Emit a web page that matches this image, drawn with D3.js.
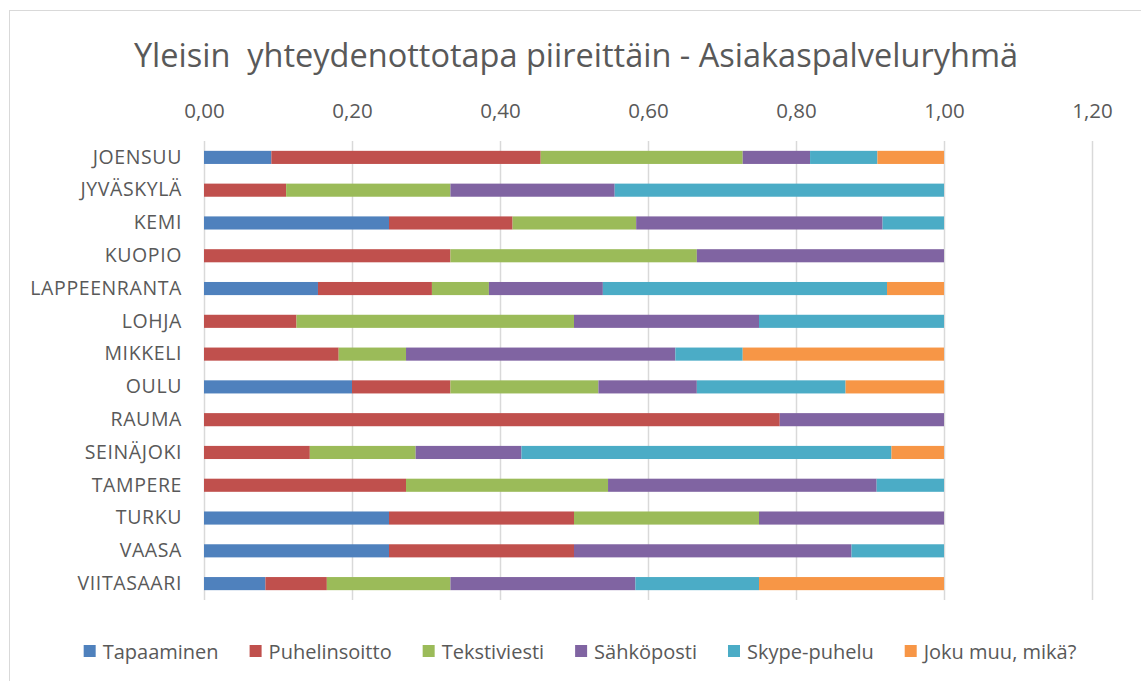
<!DOCTYPE html>
<meta charset="utf-8">
<html>
<head>
  <script src="https://d3js.org/d3.v7.min.js" charset="utf-8"></script>
</head>
<style>
body { margin: 0; background: white; }
text { font-family: "Open Sans", sans-serif; fill: #595959; }
</style>
<body>
<div id="container"></div>
<script type="text/javascript">

var categories = ["JOENSUU", "JYVÄSKYLÄ", "KEMI", "KUOPIO", "LAPPEENRANTA", "LOHJA", "MIKKELI",
                  "OULU", "RAUMA", "SEINÄJOKI", "TAMPERE", "TURKU", "VAASA", "VIITASAARI"]

var seriesNames = ["Tapaaminen", "Puhelinsoitto", "Tekstiviesti", "Sähköposti", "Skype-puhelu", "Joku muu, mikä?"]

var tapaaminen    = [0.091, 0,     0.250, 0,     0.154, 0,     0,     0.200, 0,     0,     0,     0.250, 0.250, 0.083]
var puhelinsoitto = [0.364, 0.111, 0.167, 0.333, 0.154, 0.125, 0.182, 0.133, 0.778, 0.143, 0.273, 0.250, 0.250, 0.083]
var tekstiviesti  = [0.273, 0.222, 0.167, 0.333, 0.077, 0.375, 0.091, 0.200, 0,     0.143, 0.273, 0.250, 0,     0.167]
var sahkoposti    = [0.091, 0.222, 0.333, 0.334, 0.154, 0.250, 0.364, 0.133, 0.222, 0.143, 0.363, 0.250, 0.375, 0.250]
var skype         = [0.091, 0.445, 0.083, 0,     0.384, 0.250, 0.091, 0.201, 0,     0.500, 0.091, 0,     0.125, 0.167]
var jokuMuu       = [0.090, 0,     0,     0,     0.077, 0,     0.272, 0.133, 0,     0.071, 0,     0,     0,     0.250]

var ticks = [0, 0.2, 0.4, 0.6, 0.8, 1.0, 1.2]

var colors = ["#4f81bd", "#c0504d", "#9bbb59", "#8064a2", "#4bacc6", "#f79646"]

var width = 1141
var height = 681
var plot = {left: 204, right: 1092, top: 141, bottom: 600}

var allSeries = [tapaaminen, puhelinsoitto, tekstiviesti, sahkoposti, skype, jokuMuu]
var rows = categories.map(function(c, i) {
  var r = {name: c}
  seriesNames.forEach(function(s, j) { r[s] = allSeries[j][i] })
  return r
})

var stack = d3.stack().keys(seriesNames)(rows)

var x = d3.scaleLinear().domain([0, 1.2]).range([plot.left, plot.right])
var y = d3.scaleBand().domain(categories).range([plot.top, plot.bottom]).paddingInner(0.6).paddingOuter(0.3)
var color = d3.scaleOrdinal().domain(seriesNames).range(colors)

var locale = d3.formatLocale({decimal: ",", thousands: " ", grouping: [3], currency: ["", "€"]})
var fmt = locale.format(".2f")

const svg = d3.select("#container")
              .append("svg")
              .attr("width", width)
              .attr("height", height)

// chart frame
svg.append("rect")
   .attr("x", 9.5).attr("y", 10.5)
   .attr("width", width).attr("height", height)
   .attr("fill", "white")
   .attr("stroke", "#d9d9d9")

svg.append("text")
   .attr("x", 576)
   .attr("y", 67)
   .attr("text-anchor", "middle")
   .style("font-size", "32.5px")
   .style("white-space", "pre")
   .text("Yleisin  yhteydenottotapa piireittäin - Asiakaspalveluryhmä")

// gridlines
svg.append("g")
   .selectAll("line")
   .data(ticks)
   .enter()
   .append("line")
   .attr("x1", (d) => Math.round(x(d)) + 0.5)
   .attr("x2", (d) => Math.round(x(d)) + 0.5)
   .attr("y1", plot.top)
   .attr("y2", plot.bottom)
   .attr("stroke", "#d9d9d9")
   .attr("stroke-width", 1.5)

// top axis labels
var xAxis = svg.append("g")
   .attr("transform", "translate(0," + 118 + ")")
   .call(d3.axisTop(x).tickValues(ticks).tickFormat(fmt).tickSize(0).tickPadding(0))
xAxis.select(".domain").remove()
xAxis.selectAll("text")
     .attr("dy", 0)
     .style("font-size", "20.5px")
     .attr("fill", "#595959")

// category labels
var yAxis = svg.append("g")
   .attr("transform", "translate(" + 182 + ",0)")
   .call(d3.axisLeft(y).tickSize(0).tickPadding(0))
yAxis.select(".domain").remove()
yAxis.selectAll("text")
     .style("font-size", "19.5px")
     .style("letter-spacing", "0.6px")
     .attr("fill", "#595959")

// bars
svg.append("g")
   .selectAll("g")
   .data(stack)
   .enter()
   .append("g")
   .attr("fill", (d) => color(d.key))
   .selectAll("rect")
   .data((d) => d)
   .enter()
   .append("rect")
   .attr("x", (d) => x(d[0]))
   .attr("y", (d) => y(d.data.name))
   .attr("width", (d) => x(d[1]) - x(d[0]))
   .attr("height", y.bandwidth())

// legend
var legend = svg.append("g").attr("transform", "translate(0,659)")
var items = legend.selectAll("g")
   .data(seriesNames)
   .enter()
   .append("g")
items.append("rect")
     .attr("y", -14)
     .attr("width", 12)
     .attr("height", 12)
     .attr("fill", (d) => color(d))
items.append("text")
     .attr("x", 19)
     .style("font-size", "20px")
     .text((d) => d)

var gap = 31
var offsets = []
var cur = 0
items.each(function(d) {
  offsets.push(cur)
  cur += 19 + this.querySelector("text").getComputedTextLength() + gap
})
var total = cur - gap
var start = 580 - total / 2
items.attr("transform", (d, i) => "translate(" + (start + offsets[i]) + ",0)")

</script>
</body>
</html>
